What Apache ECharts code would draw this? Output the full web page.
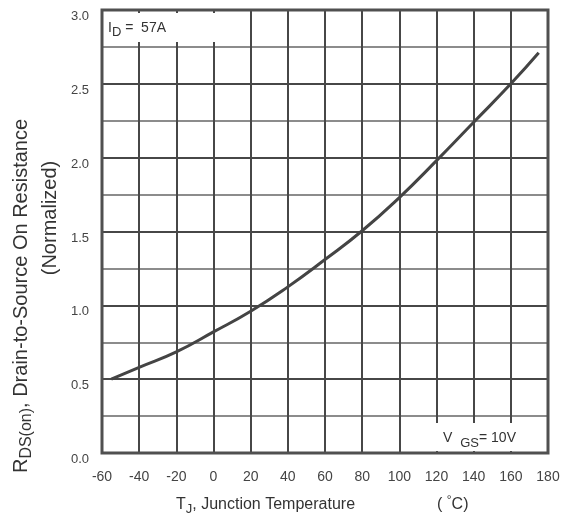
<!DOCTYPE html>
<html>
<head>
<meta charset="utf-8">
<script src="https://cdn.jsdelivr.net/npm/echarts@6/dist/echarts.min.js"></script>
<style>
	html, body { margin: 0; padding: 0; background: #fff; }
	#mychart { width: 568px; height: 517px; }
</style>
</head>
<body>
<div id="mychart"></div>
<script>
// junction temperature (°C) and normalized RDS(on)
var tempC = [-55, -40, -20, 0, 20, 40, 60, 80, 100, 120, 140, 160, 175];
var rdsNorm = [0.50, 0.58, 0.685, 0.82, 0.96, 1.125, 1.31, 1.505, 1.73, 1.98, 2.24, 2.5, 2.71];
var xTicks = [-60, -40, -20, 0, 20, 40, 60, 80, 100, 120, 140, 160, 180];
var yTicks = [0, 0.5, 1.0, 1.5, 2.0, 2.5, 3.0];

var curve = [];
for(var i = 0; i < tempC.length; i++) {
	curve.push([tempC[i], rdsNorm[i]]);
}

var font = '"Liberation Sans", Arial, sans-serif';
var dark = '#474747';

var myChart = echarts.init(document.getElementById('mychart'));
var option = {
	animation: false,
	grid: {
		left: 102,
		right: 20,
		top: 10,
		bottom: 64,
		show: true,
		borderColor: '#505050',
		borderWidth: 3,
		z: 5
	},
	xAxis: {
		type: 'value',
		min: xTicks[0],
		max: xTicks[xTicks.length - 1],
		interval: 20,
		axisLine: { show: false },
		axisTick: { show: false },
		axisLabel: {
			margin: 17,
			fontSize: 14,
			fontFamily: font,
			color: '#444'
		},
		splitLine: { lineStyle: { color: dark, width: 2 } }
	},
	yAxis: {
		type: 'value',
		min: yTicks[0],
		max: yTicks[yTicks.length - 1],
		interval: 0.5,
		axisLine: { show: false },
		axisTick: { show: false },
		minorTick: { show: false, splitNumber: 2 },
		minorSplitLine: { show: true, lineStyle: { color: '#8c8c8c', width: 2 } },
		axisLabel: {
			margin: 13,
			fontSize: 13,
			fontFamily: font,
			color: '#444',
			verticalAlign: 'top',
			formatter: function(v) { return v.toFixed(1); }
		},
		splitLine: { lineStyle: { color: dark, width: 2 } }
	},
	graphic: [
		// I_D label box
		{ type: 'rect', z: 10, shape: { x: 104, y: 13, width: 136, height: 29 }, style: { fill: '#fff' } },
		{
			type: 'text', z: 11, x: 108, y: 28,
			style: {
				text: '{a|I}{s|D}{a| =  57A}',
				verticalAlign: 'middle',
				rich: {
					a: { fontSize: 14, fontFamily: font, fill: '#333' },
					s: { fontSize: 13, fontFamily: font, fill: '#333', padding: [9, 0, 0, 0] }
				}
			}
		},
		// V_GS label box
		{ type: 'rect', z: 10, shape: { x: 426, y: 423, width: 120, height: 28 }, style: { fill: '#fff' } },
		{
			type: 'text', z: 11, x: 443, y: 438,
			style: {
				text: '{a|V }{s|GS}{a|= 10V}',
				verticalAlign: 'middle',
				rich: {
					a: { fontSize: 14, fontFamily: font, fill: '#333' },
					s: { fontSize: 13, fontFamily: font, fill: '#333', padding: [11, 0, 0, 4] }
				}
			}
		},
		// axis titles
		{
			type: 'text', z: 11, x: 176, y: 505,
			style: {
				text: '{a|T}{s|J}{a|, Junction Temperature}',
				verticalAlign: 'middle',
				rich: {
					a: { fontSize: 16, fontFamily: font, fill: '#333' },
					s: { fontSize: 13, fontFamily: font, fill: '#333', padding: [9, 0, 0, 0] }
				}
			}
		},
		{
			type: 'text', z: 11, x: 437, y: 505,
			style: {
				text: '{a|( }{u|°}{a|C)}',
				verticalAlign: 'middle',
				rich: {
					a: { fontSize: 16, fontFamily: font, fill: '#333' },
					u: { fontSize: 12, fontFamily: font, fill: '#333', padding: [0, 0, 8, 0] }
				}
			}
		},
		{
			type: 'text', z: 11, x: 21, y: 296, rotation: Math.PI / 2,
			style: {
				text: '{a|R}{s|DS(on)}{a|, Drain-to-Source On Resistance}',
				align: 'center',
				verticalAlign: 'middle',
				rich: {
					a: { fontSize: 20, fontFamily: font, fill: '#333' },
					s: { fontSize: 16, fontFamily: font, fill: '#333', padding: [11, 0, 0, 0] }
				}
			}
		},
		{
			type: 'text', z: 11, x: 50, y: 218, rotation: Math.PI / 2,
			style: {
				text: '(Normalized)',
				align: 'center',
				verticalAlign: 'middle',
				fontSize: 20,
				fontFamily: font,
				fill: '#333'
			}
		}
	],
	series: [{
		type: 'line',
		data: curve,
		smooth: true,
		symbol: 'none',
		z: 6,
		lineStyle: { color: '#444', width: 3 }
	}]
};
myChart.setOption(option);
</script>
</body>
</html>
